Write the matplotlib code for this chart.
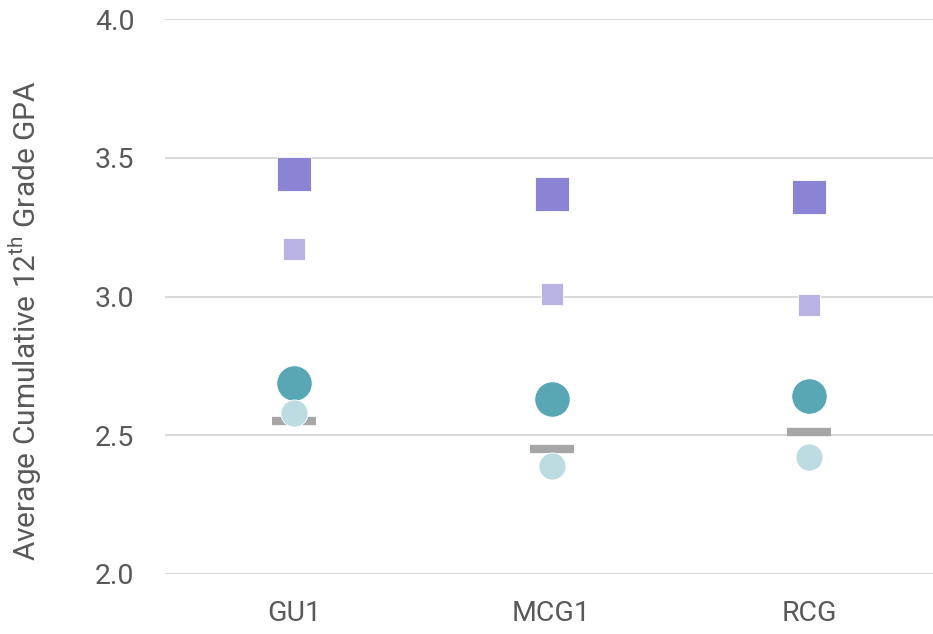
import matplotlib
matplotlib.use("Agg")
import matplotlib.pyplot as plt

# categories and values
GROUPS = ["GU1", "MCG1", "RCG"]
BIG_SQUARE = [3.44, 3.37, 3.36]
SMALL_SQUARE = [3.17, 3.01, 2.97]
BIG_CIRCLE = [2.69, 2.63, 2.64]
SMALL_CIRCLE = [2.58, 2.39, 2.42]
DASH = [2.55, 2.45, 2.51]
Y_TICKS = [2.0, 2.5, 3.0, 3.5, 4.0]

TXT = "#595959"
GRID = "#D9D9D9"

plt.rcParams["font.family"] = ["Roboto", "DejaVu Sans"]

fig = plt.figure(figsize=(9.33, 6.34), dpi=100)
ax = fig.add_axes([165 / 933, 60 / 634, 1 - 165 / 933, 555 / 634])

xs = list(range(len(GROUPS)))
ax.plot(xs, DASH, ls="", marker="_", ms=31.5, mew=6, color="#A6A6A6", zorder=3)
ax.plot(xs, BIG_SQUARE, ls="", marker="s", ms=24, color="#8B83D3",
        mec="white", mew=0.6, zorder=4)
ax.plot(xs, SMALL_SQUARE, ls="", marker="s", ms=16.5, color="#B9B3E3",
        mec="white", mew=0.6, zorder=4)
ax.plot(xs, BIG_CIRCLE, ls="", marker="o", ms=25.5, color="#59A7B4",
        mec="white", mew=0.6, zorder=4)
ax.plot(xs, SMALL_CIRCLE, ls="", marker="o", ms=19.5, color="#BCDCE1",
        mec="white", mew=0.6, zorder=5)

# plot area runs a little past the right edge of the image
ax.set_xlim(-0.5, len(GROUPS) - 0.52)
ax.set_ylim(2.0, 4.0)
ax.set_yticks(Y_TICKS)
ax.set_yticklabels([f"{v:.1f}" for v in Y_TICKS])
ax.set_xticks(xs)
ax.set_xticklabels(GROUPS)
ax.grid(axis="y", color=GRID, lw=1.5, zorder=0)
ax.set_axisbelow(True)
for sp in ax.spines.values():
    sp.set_visible(False)
ax.tick_params(axis="x", length=0, labelsize=20.5, labelcolor=TXT, pad=19)
ax.tick_params(axis="y", length=0, labelsize=20.5, labelcolor=TXT, pad=22)
ax.set_ylabel("Average Cumulative 12$^{\\mathregular{th}}$ Grade GPA",
              fontsize=21.5, color=TXT)
ax.yaxis.set_label_coords(-0.158, 0.456)

fig.savefig("out.png", dpi=100)
